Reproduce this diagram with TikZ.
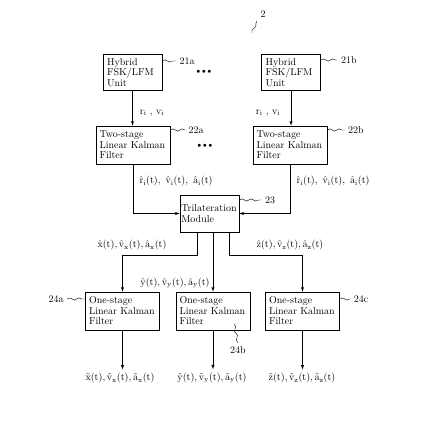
\documentclass[tikz,border=0pt]{standalone}
\usetikzlibrary{arrows,decorations.pathmorphing}

\begin{document}
\begin{tikzpicture}[x=1pt,y=-1pt,font=\fontsize{10pt}{10.5pt}\selectfont]
\tikzset{hybbox/.style={draw,line width=0.65pt,align=left,inner xsep=4pt,inner ysep=0pt,text width=51pt,minimum height=36pt}}
\tikzset{kfbox/.style={hybbox,inner xsep=3.5pt,text width=67pt,minimum height=38pt}}
\tikzset{tribox/.style={hybbox,inner xsep=1.25pt,text width=56.5pt,minimum height=37pt}}
\tikzset{flow/.style={->,>=latex,line width=0.5pt}}
\tikzset{tag/.style={decorate,decoration={snake,amplitude=1.1pt,segment length=9pt},line width=0.4pt}}

\useasboundingbox (0,0) rectangle (432,439);

% boxes
\node[hybbox] (hybA) at (132.5,72.5) {Hybrid\\FSK/LFM\\Unit};
\node[hybbox] (hybB) at (291,72.5) {Hybrid\\FSK/LFM\\Unit};
\node[kfbox] (lkfA) at (133,145) {Two-stage\\Linear Kalman\\Filter};
\node[kfbox] (lkfB) at (290,145) {Two-stage\\Linear Kalman\\Filter};
\node[tribox] (tri) at (209.5,213.5) {Trilateration\\Module};
\node[kfbox] (oskfX) at (122.5,311) {One-stage\\Linear Kalman\\Filter};
\node[kfbox] (oskfY) at (213,311) {One-stage\\Linear Kalman\\Filter};
\node[kfbox] (oskfZ) at (302.5,311) {One-stage\\Linear Kalman\\Filter};

\node (dotsA) at (204,72) {$\scriptstyle\bullet\,\bullet\,\bullet$};
\node (dotsB) at (205,146) {$\scriptstyle\bullet\,\bullet\,\bullet$};

% reference numerals
\node (tagTwo) at (263,14) {2};
\coordinate (tagTwoEnd) at (252,33);
\node (tagHybA) at (187,61) {21a};
\node (tagHybB) at (349,60) {21b};
\node (tagLkfA) at (196,130) {22a};
\node (tagLkfB) at (356,130) {22b};
\node (tagTri) at (270,200) {23};
\node (tagOskfX) at (56,299) {24a};
\node (tagOskfY) at (238,350) {24b};
\coordinate (tagOskfYEnd) at (234,324);
\node (tagOskfZ) at (361,299) {24c};

\draw[tag] (tagTwoEnd) -- (tagTwo.south west);
\draw[tag] (hybA.east |- tagHybA) -- (tagHybA.west);
\draw[tag] (hybB.east |- tagHybB) -- (tagHybB.west);
\draw[tag] (lkfA.east |- tagLkfA) -- (tagLkfA.west);
\draw[tag] (lkfB.east |- tagLkfB) -- (tagLkfB.west);
\draw[tag] (tri.east |- tagTri) -- (tagTri.west);
\draw[tag] (tagOskfX.east) -- (oskfX.west |- tagOskfX);
\draw[tag] (tagOskfYEnd) -- (tagOskfY.north);
\draw[tag] (oskfZ.east |- tagOskfZ) -- (tagOskfZ.west);

% signal labels
\node (rvA) at (152,113) {$\mathrm{r}_\mathrm{i}$ , $\mathrm{v}_\mathrm{i}$};
\node (rvB) at (268,113) {$\mathrm{r}_\mathrm{i}$ , $\mathrm{v}_\mathrm{i}$};
\node[anchor=west] (estA) at (136,181) {$\hat{\mathrm{r}}_\mathrm{i}(\mathrm{t}),\ \hat{\mathrm{v}}_\mathrm{i}(\mathrm{t}),\ \hat{\mathrm{a}}_\mathrm{i}(\mathrm{t})$};
\node[anchor=west] (estB) at (293,181) {$\hat{\mathrm{r}}_\mathrm{i}(\mathrm{t}),\ \hat{\mathrm{v}}_\mathrm{i}(\mathrm{t}),\ \hat{\mathrm{a}}_\mathrm{i}(\mathrm{t})$};
\node (estX) at (132,245) {$\hat{\mathrm{x}}(\mathrm{t}), \hat{\mathrm{v}}_\mathrm{x}(\mathrm{t}), \hat{\mathrm{a}}_\mathrm{x}(\mathrm{t})$};
\node (estY) at (175,283) {$\hat{\mathrm{y}}(\mathrm{t}), \hat{\mathrm{v}}_\mathrm{y}(\mathrm{t}), \hat{\mathrm{a}}_\mathrm{y}(\mathrm{t})$};
\node (estZ) at (290,245) {$\hat{\mathrm{z}}(\mathrm{t}), \hat{\mathrm{v}}_\mathrm{z}(\mathrm{t}), \hat{\mathrm{a}}_\mathrm{z}(\mathrm{t})$};
\node (outX) at (120,378) {$\tilde{\mathrm{x}}(\mathrm{t}),\tilde{\mathrm{v}}_\mathrm{x}(\mathrm{t}),\tilde{\mathrm{a}}_\mathrm{x}(\mathrm{t})$};
\node (outY) at (212,378) {$\tilde{\mathrm{y}}(\mathrm{t}),\tilde{\mathrm{v}}_\mathrm{y}(\mathrm{t}),\tilde{\mathrm{a}}_\mathrm{y}(\mathrm{t})$};
\node (outZ) at (302,378) {$\tilde{\mathrm{z}}(\mathrm{t}),\tilde{\mathrm{v}}_\mathrm{z}(\mathrm{t}),\tilde{\mathrm{a}}_\mathrm{z}(\mathrm{t})$};

% connectors
\draw[flow] (hybA.south) -- (hybA.south |- lkfA.north);
\draw[flow] (hybB.south) -- (hybB.south |- lkfB.north);
\draw[flow] (lkfA.south) |- (tri.west);
\draw[flow] (lkfB.south) |- (tri.east);
\draw[flow] ([xshift=-12.5pt]tri.south) -- ++(0,23) -| (oskfX.north);
\draw[flow] (tri.south -| oskfY.north) -- (oskfY.north);
\draw[flow] ([xshift=19.5pt]tri.south) -- ++(0,23) -| (oskfZ.north);
\draw[flow] (oskfX.south) -- (oskfX.south |- outX.north);
\draw[flow] (oskfY.south) -- (oskfY.south |- outY.north);
\draw[flow] (oskfZ.south) -- (oskfZ.south |- outZ.north);

\end{tikzpicture}
\end{document}
